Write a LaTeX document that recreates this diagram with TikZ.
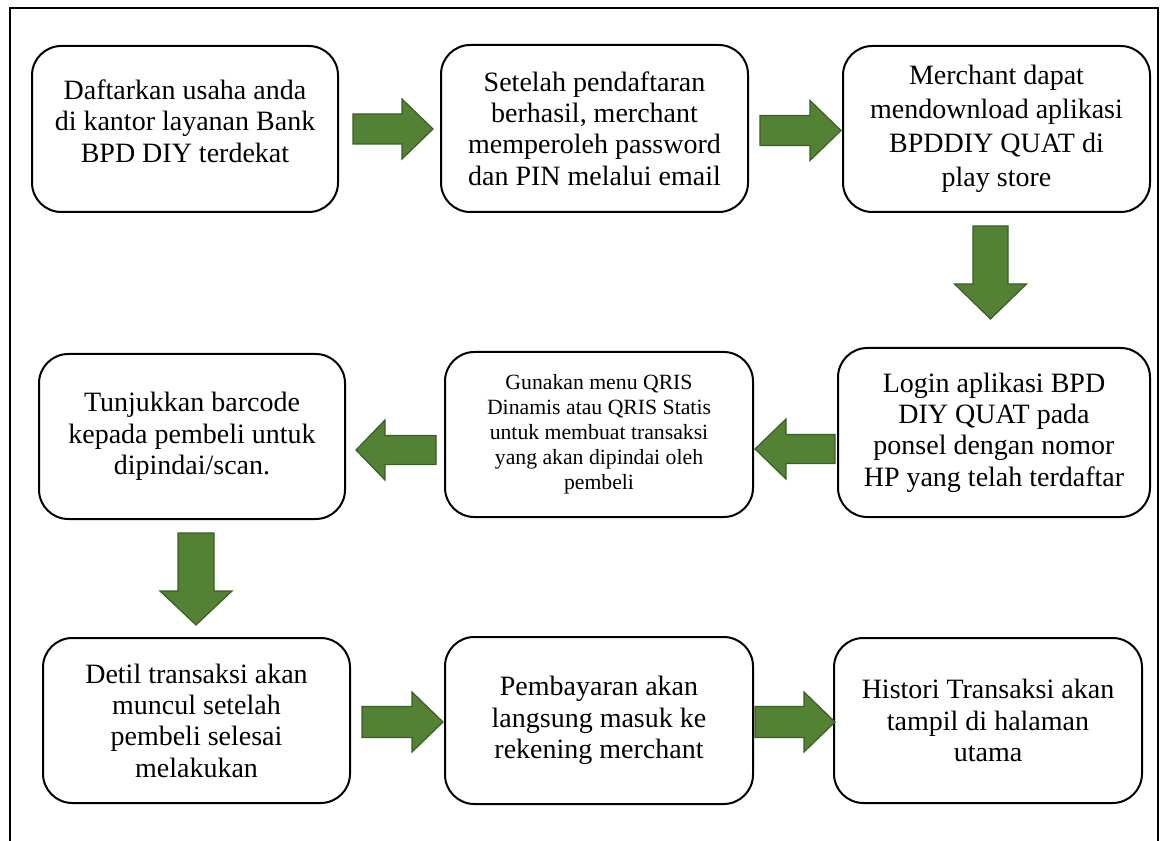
\documentclass[tikz,border=0pt]{standalone}
\usepackage{fontspec}
\setmainfont{Liberation Serif}
\definecolor{arrowfill}{HTML}{548235}
\definecolor{arrowdraw}{HTML}{3B5E26}
\newcommand\harrow[6]{% tail x, tip x, head-base x, center y, shaft half, head half
  \filldraw[greenarrow] (#1,{#4-#5}) -- (#3,{#4-#5}) -- (#3,{#4-#6}) -- (#2,#4) -- (#3,{#4+#6}) -- (#3,{#4+#5}) -- (#1,{#4+#5}) -- cycle;}
\newcommand\varrow[6]{% tail y, tip y, head-base y, center x, shaft half, head half
  \filldraw[greenarrow] ({#4-#5},#1) -- ({#4-#5},#3) -- ({#4-#6},#3) -- (#4,#2) -- ({#4+#6},#3) -- ({#4+#5},#3) -- ({#4+#5},#1) -- cycle;}
\begin{document}
\begin{tikzpicture}[x=0.75pt,y=-0.75pt,
  stepbox/.style={draw, line width=1.5pt, rounded corners=22pt, align=center, inner sep=0pt,
    font=\fontsize{21}{23.5}\selectfont},
  smallbox/.style={stepbox, font=\fontsize{16.3}{18.8}\selectfont},
  plaintext/.style={align=center, inner sep=0pt, font=\fontsize{21}{23.5}\selectfont},
  greenarrow/.style={fill=arrowfill, draw=arrowdraw, line width=0.9pt, line join=miter}]
\useasboundingbox (0,0) rectangle (1167,841);
% outer frame (open at the bottom)
\draw[line width=1pt] (10,841) -- (10,8) -- (1158,8) -- (1158,841);

\node[stepbox, minimum width=306*0.75pt, minimum height=166*0.75pt] (b1) at (185,129) {};
\node[plaintext] (b1t) at ([yshift=6pt]b1.center)
  {Daftarkan usaha anda\\di kantor layanan Bank\\BPD DIY terdekat};
\node[stepbox, minimum width=307*0.75pt, minimum height=167*0.75pt] (b2) at (594.5,128.5)
  {Setelah pendaftaran\\berhasil, merchant\\memperoleh password\\dan PIN melalui email};
\node[stepbox, minimum width=307*0.75pt, minimum height=166*0.75pt,
  font=\fontsize{21}{25.5}\selectfont] (b3) at (996.5,129)
  {Merchant dapat\\mendownload aplikasi\\BPDDIY QUAT di\\play store};
\node[stepbox, minimum width=312*0.75pt, minimum height=169*0.75pt] (b4) at (994,432.5)
  {Login aplikasi BPD\\DIY QUAT pada\\ponsel dengan nomor\\HP yang telah terdaftar};
\node[smallbox, minimum width=308*0.75pt, minimum height=165*0.75pt] (b5) at (599,434.5)
  {Gunakan menu QRIS\\Dinamis atau QRIS Statis\\untuk membuat transaksi\\yang akan dipindai oleh\\pembeli};
\node[stepbox, minimum width=306*0.75pt, minimum height=165*0.75pt] (b6) at (192,436.5)
  {Tunjukkan barcode\\kepada pembeli untuk\\dipindai/scan.};
\node[stepbox, minimum width=307*0.75pt, minimum height=165*0.75pt] (b7) at (196.5,720.5)
  {Detil transaksi akan\\muncul setelah\\pembeli selesai\\melakukan};
\node[stepbox, minimum width=308*0.75pt, minimum height=167*0.75pt] (b8) at (599,720.5)
  {Pembayaran akan\\langsung masuk ke\\rekening merchant};
\node[stepbox, minimum width=308*0.75pt, minimum height=165*0.75pt] (b9) at (988,720.5)
  {Histori Transaksi akan\\tampil di halaman\\utama};

% block arrows
\harrow{353}{433}{402}{129}{15}{30}
\harrow{760}{841}{810}{130.5}{15}{30}
\varrow{226}{319}{284}{990.5}{17.5}{36}
\harrow{835}{755}{786}{449}{14.5}{30}
\harrow{436}{356}{385}{450}{14.5}{30}
\varrow{533}{625}{591}{196}{18}{36}
\harrow{362}{443}{412}{722}{15.5}{30}
\harrow{755}{835}{804}{722}{15.5}{30}
\end{tikzpicture}
\end{document}
